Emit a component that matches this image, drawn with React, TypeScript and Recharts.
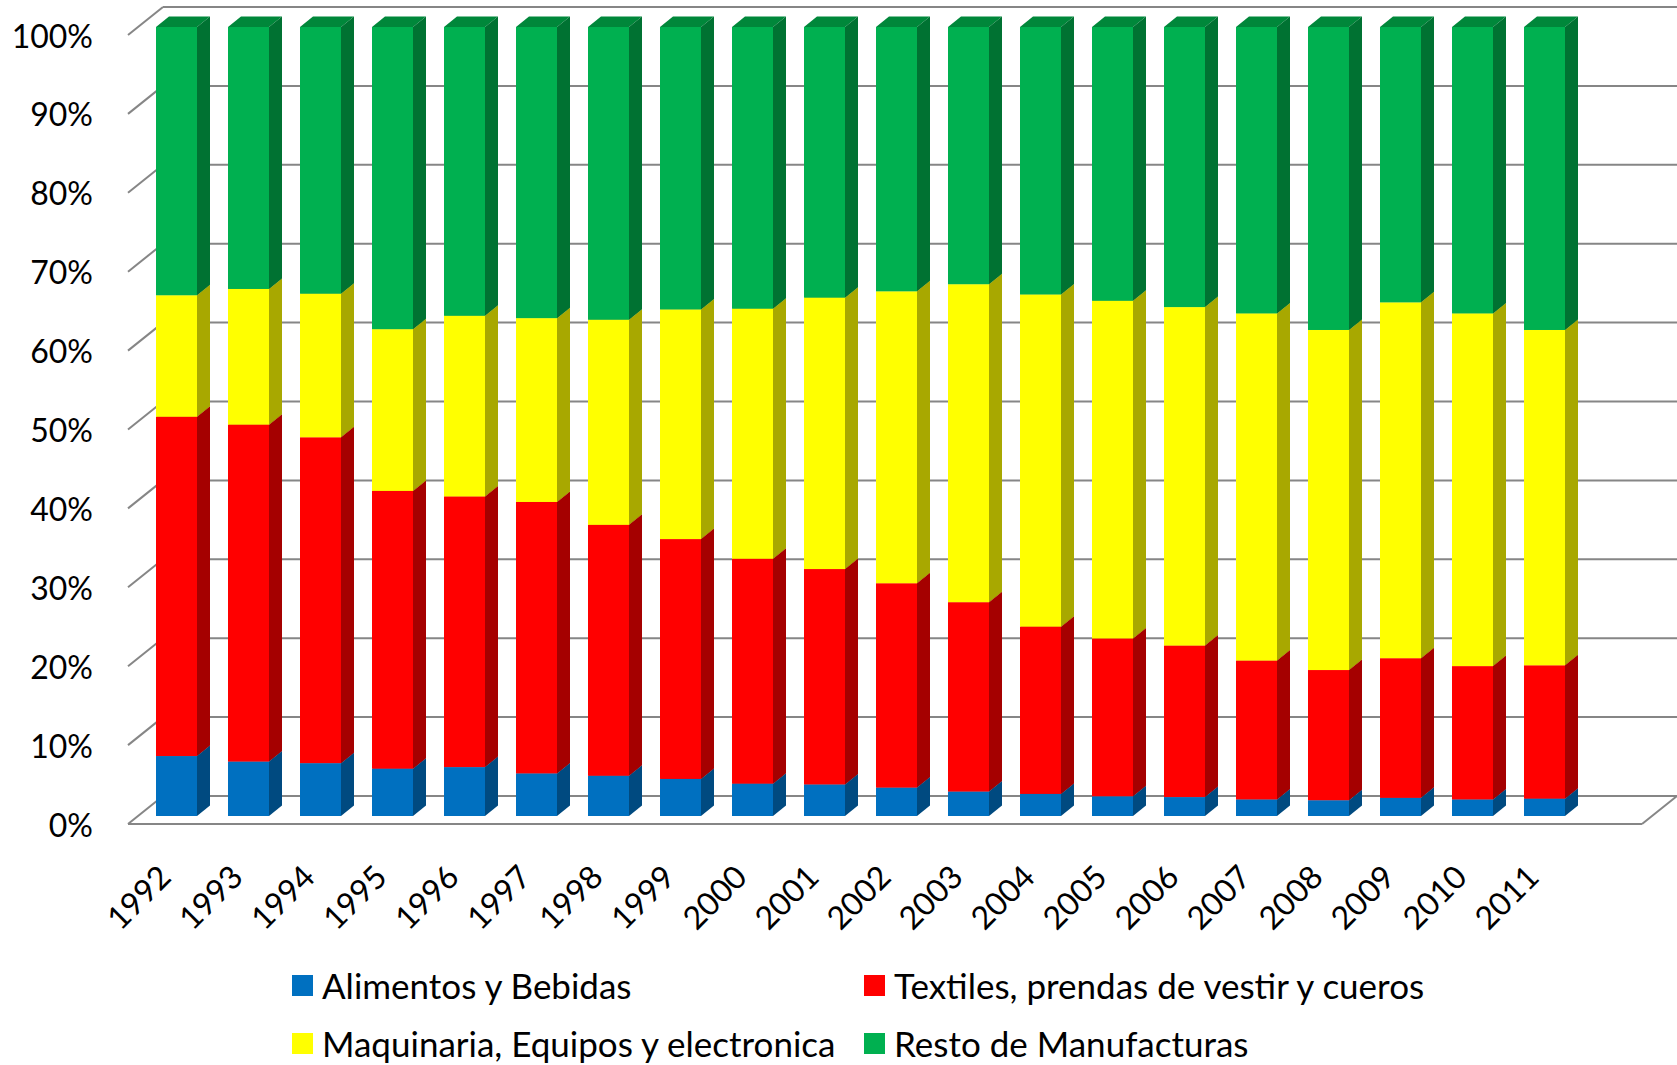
import { BarChart, Bar, XAxis, YAxis, CartesianGrid } from 'recharts';

const years = ['1992', '1993', '1994', '1995', '1996', '1997', '1998', '1999', '2000', '2001',
  '2002', '2003', '2004', '2005', '2006', '2007', '2008', '2009', '2010', '2011'];

// shares in % (each year sums to ~100)
const alimentos = [7.6, 6.9, 6.7, 6.0, 6.2, 5.4, 5.1, 4.7, 4.1, 4.0, 3.6, 3.1, 2.8, 2.5, 2.4, 2.1, 2.0, 2.3, 2.1, 2.2];
const textiles = [43.0, 42.7, 41.3, 35.2, 34.3, 34.4, 31.8, 30.4, 28.5, 27.3, 25.9, 24.0, 21.2, 20.0, 19.2, 17.6, 16.5, 17.7, 16.9, 16.9];
const maquinaria = [15.4, 17.2, 18.2, 20.5, 22.9, 23.3, 26.0, 29.1, 31.7, 34.4, 37.0, 40.3, 42.1, 42.8, 42.9, 44.0, 43.1, 45.1, 44.7, 42.5];
const resto = [34.0, 33.2, 33.8, 38.3, 36.6, 36.9, 37.1, 35.8, 35.7, 34.3, 33.5, 32.6, 33.9, 34.7, 35.5, 36.3, 38.4, 34.9, 36.3, 38.4];

const yTicks = [0, 0.1, 0.2, 0.3, 0.4, 0.5, 0.6, 0.7, 0.8, 0.9, 1];

const series = [
  { key: 'alimentos', name: 'Alimentos y Bebidas', front: '#0070C0', side: '#004A80', top: '#005A9A' },
  { key: 'textiles', name: 'Textiles, prendas de vestir y cueros', front: '#FF0000', side: '#A50000', top: '#C00000' },
  { key: 'maquinaria', name: 'Maquinaria, Equipos y electronica', front: '#FFFF00', side: '#A8A800', top: '#BDBD00' },
  { key: 'resto', name: 'Resto de Manufacturas', front: '#00B050', side: '#007232', top: '#00873A' },
];

const data = years.map((year, i) => ({
  year,
  alimentos: alimentos[i],
  textiles: textiles[i],
  maquinaria: maquinaria[i],
  resto: resto[i],
}));

const W = 1677;
const H = 1065;
const FONT = 'Lato, "Noto Sans", sans-serif';
const GRID = '#868686';
// depth of the bar itself and of the whole "room"
const DX = 13, DY = 10.5;
const BACK_DX = 23, BACK_DY = 20, FRONT_DX = 12, FRONT_DY = 8;
const EXTRA_RIGHT = 97;

function make3D(front: string, side: string, top: string) {
  return (props: any) => {
    const { x, y, width: w, height: h } = props;
    if (!h || h <= 0) return <g />;
    return (
      <g>
        <path d={`M${x},${y} L${x + DX},${y - DY} L${x + w + DX},${y - DY} L${x + w},${y} Z`} fill={top} />
        <path d={`M${x + w},${y} L${x + w + DX},${y - DY} L${x + w + DX},${y + h - DY} L${x + w},${y + h} Z`} fill={side} />
        <rect x={x} y={y} width={w} height={h} fill={front} />
      </g>
    );
  };
}

function gridLine(props: any) {
  const { x1, x2, y1 } = props;
  return (
    <g key={props.key}>
      <line x1={x1 - FRONT_DX} y1={y1 + FRONT_DY} x2={x1 + BACK_DX} y2={y1 - BACK_DY} stroke={GRID} strokeWidth={2} />
      <line x1={x1 + BACK_DX} y1={y1 - BACK_DY} x2={x2 + EXTRA_RIGHT} y2={y1 - BACK_DY} stroke={GRID} strokeWidth={2} />
    </g>
  );
}

function YTick(props: any) {
  const { y, payload } = props;
  const left = 140;
  const right = W - EXTRA_RIGHT;
  return (
    <g>
      <text x={left - 47} y={y + FRONT_DY} textAnchor="end" dominantBaseline="central"
        fontFamily={FONT} fontSize={32} fill="#000">
        {Math.round(payload.value * 100)}%
      </text>
      {payload.value === 0 && (
        <g>
          <line x1={left - FRONT_DX} y1={y + FRONT_DY} x2={right + 62} y2={y + FRONT_DY} stroke={GRID} strokeWidth={2} />
          <line x1={right + 62} y1={y + FRONT_DY} x2={right + 97} y2={y - BACK_DY} stroke={GRID} strokeWidth={2} />
        </g>
      )}
    </g>
  );
}

function XTick(props: any) {
  const { x, payload } = props;
  const ax = x - 3;
  const ay = 879;
  return (
    <text x={ax} y={ay} textAnchor="end" transform={`rotate(-45, ${ax}, ${ay})`}
      fontFamily={FONT} fontSize={32} fill="#000">
      {payload.value}
    </text>
  );
}

export default function App() {
  const legendPos = [
    { left: 292, top: 985 },
    { left: 864, top: 985 },
    { left: 292, top: 1043 },
    { left: 864, top: 1043 },
  ];
  return (
    <div style={{ position: 'absolute', left: 0, top: 0, width: W, height: H, background: '#fff', overflow: 'hidden' }}>
      <BarChart width={W} height={H} data={data} stackOffset="expand" barSize={41}
        margin={{ top: 27, right: EXTRA_RIGHT, left: 40, bottom: 149 }}>
        <CartesianGrid vertical={false} horizontal={gridLine} />
        <XAxis dataKey="year" interval={0} height={100} axisLine={false} tickLine={false} tick={<XTick />} />
        <YAxis type="number" domain={[0, 1]} ticks={yTicks} width={100} axisLine={false} tickLine={false} tick={<YTick />} />
        {series.map(s => (
          <Bar key={s.key} dataKey={s.key} name={s.name} stackId="a" fill={s.front}
            shape={make3D(s.front, s.side, s.top)} isAnimationActive={false} />
        ))}
      </BarChart>
      {series.map((s, i) => (
        <div key={s.key} style={{ position: 'absolute', left: legendPos[i].left, top: legendPos[i].top - 19, height: 38, lineHeight: '38px', display: 'flex', alignItems: 'center', fontFamily: FONT, fontSize: 35, color: '#000', whiteSpace: 'nowrap' }}>
          <span style={{ display: 'inline-block', width: 21, height: 21, background: s.front, marginRight: 9 }} />
          {s.name}
        </div>
      ))}
    </div>
  );
}
